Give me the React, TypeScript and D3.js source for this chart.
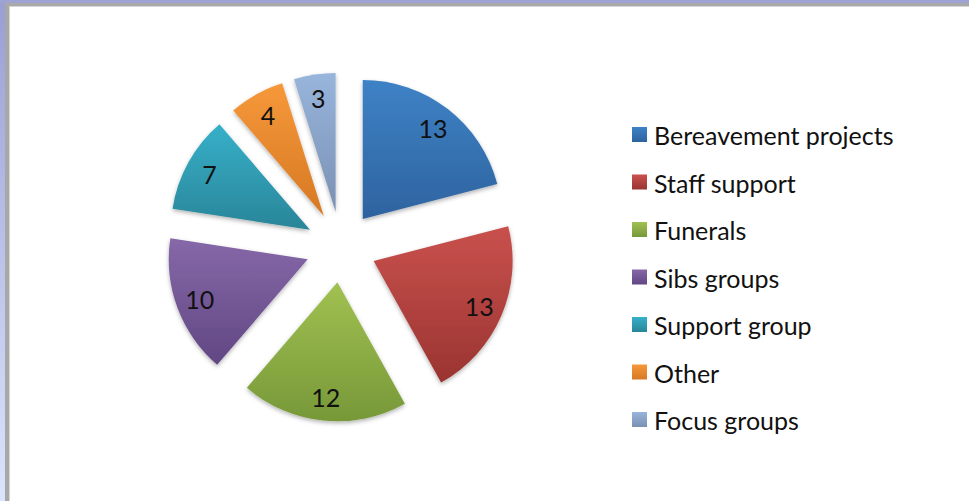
import React from "react";
import * as d3 from "d3";

const categories = ["Bereavement projects", "Staff support", "Funerals", "Sibs groups", "Support group", "Other", "Focus groups"];
const values = [13, 13, 12, 10, 7, 4, 3];
const colorsTop = ["#3e82c6", "#c9514d", "#a1c152", "#8668a8", "#36b0c9", "#f6983a", "#98b5dc"];
const colorsBottom = ["#2e639f", "#9a3431", "#779838", "#614783", "#2a8598", "#d67923", "#7a90b3"];

const W = 969;
const H = 501;
const cx = 341;
const cy = 247;
const R = 139;
const explode = 35.5;
const labelR = 115;

export default function App() {
  const pie = d3.pie<number>().sort(null).value((d) => d)(values);
  const arc = d3.arc<d3.PieArcDatum<number>>().innerRadius(0).outerRadius(R);
  const labelArc = d3.arc<d3.PieArcDatum<number>>().innerRadius(labelR).outerRadius(labelR);
  const legendY = d3.scaleLinear().domain([0, categories.length - 1]).range([135, 420]);
  const font = "'Lato', 'Open Sans', sans-serif";

  return (
    <svg width={W} height={H} style={{ position: "absolute", left: 0, top: 0, background: "#fff" }}>
      <defs>
        <linearGradient id="frameL" x1="0" y1="0" x2="0" y2="1">
          <stop offset="0" stopColor="#9a9fd4" />
          <stop offset="1" stopColor="#dce4fd" />
        </linearGradient>
        {colorsTop.map((c, i) => (
          <linearGradient key={i} id={"g" + i} x1="0" y1="0" x2="0" y2="1">
            <stop offset="0" stopColor={c} />
            <stop offset="1" stopColor={colorsBottom[i]} />
          </linearGradient>
        ))}
        <filter id="shadow" x="-20%" y="-20%" width="140%" height="140%">
          <feDropShadow dx="0" dy="2" stdDeviation="2" floodColor="#000" floodOpacity="0.3" />
        </filter>
      </defs>
      <rect x={0} y={0} width={W} height={H} fill="#fff" />
      <rect x={0} y={0} width={5} height={H} fill="url(#frameL)" />
      <rect x={0} y={0} width={W} height={3} fill="#9ea3d4" />
      <rect x={5} y={3} width={4} height={H - 3} fill="#a8a8a8" />
      <rect x={5} y={3} width={W - 5} height={3} fill="#a9a9a9" />
      <rect x={9} y={6} width={1} height={H - 6} fill="#d6d6d6" />
      <rect x={9} y={6} width={W - 9} height={1} fill="#d6d6d6" />

      <g transform={`translate(${cx},${cy})`}>
        {pie.map((p, i) => {
          const mid = (p.startAngle + p.endAngle) / 2;
          const dx = explode * Math.sin(mid);
          const dy = -explode * Math.cos(mid);
          const [lx, ly] = labelArc.centroid(p);
          return (
            <g key={i} transform={`translate(${dx},${dy})`}>
              <path d={arc(p) || ""} fill={`url(#g${i})`} filter="url(#shadow)" />
              <text x={lx} y={ly} textAnchor="middle" dominantBaseline="central" fontFamily={font} fontSize={25} fill="#111">
                {values[i]}
              </text>
            </g>
          );
        })}
      </g>

      {categories.map((c, i) => (
        <g key={c} transform={`translate(632,${legendY(i)})`}>
          <rect x={0} y={-8} width={15} height={15} fill={`url(#g${i})`} />
          <text x={22} y={0} dominantBaseline="central" fontFamily={font} fontSize={25} fill="#111">
            {c}
          </text>
        </g>
      ))}
    </svg>
  );
}
